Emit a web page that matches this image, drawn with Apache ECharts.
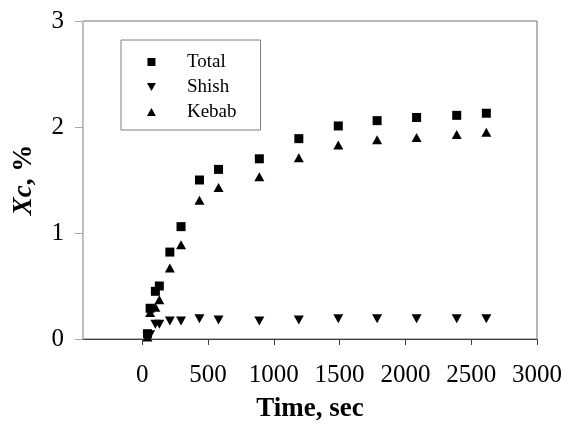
<!DOCTYPE html>
<html>
<head>
<meta charset="utf-8">
<script src="https://cdn.jsdelivr.net/npm/echarts@6/dist/echarts.min.js"></script>
<style>
  html, body { margin: 0; padding: 0; background: #fff; }
  #chart { width: 568px; height: 431px; }
</style>
</head>
<body>
<div id="chart"></div>
<script>
// Sampling times (s) and conversion Xc (%) for each fraction
const timeSec = [40, 60, 100, 130, 210, 295, 435, 580, 890, 1190, 1490, 1785, 2085, 2390, 2615];
const totalXc = [0.05, 0.29, 0.45, 0.50, 0.82, 1.06, 1.50, 1.60, 1.70, 1.89, 2.01, 2.06, 2.09, 2.11, 2.13];
const shishXc = [0.03, 0.04, 0.14, 0.14, 0.17, 0.17, 0.19, 0.18, 0.17, 0.18, 0.19, 0.19, 0.19, 0.19, 0.19];
const kebabXc = [0.02, 0.25, 0.30, 0.37, 0.67, 0.89, 1.31, 1.43, 1.53, 1.71, 1.83, 1.88, 1.90, 1.93, 1.95];

const xTicks = [0, 500, 1000, 1500, 2000, 2500, 3000];
const yTicks = [0, 1, 2, 3];

const FONT = "'Liberation Serif', 'Times New Roman', serif";
// Marker shapes: filled square, downward and upward triangles
const SQUARE = 'path://M0,0L10,0L10,10L0,10Z';
const DOWN_TRIANGLE = 'path://M0,0L10,0L5,9Z';
const UP_TRIANGLE = 'path://M5,0L10,9L0,9Z';

function pairs(xs, ys) {
  return xs.map((x, i) => [x, ys[i]]);
}

const chart = echarts.init(document.getElementById('chart'), null, { renderer: 'canvas' });

chart.setOption({
  animation: false,
  backgroundColor: '#ffffff',
  grid: {
    left: 83, top: 21, right: 31, bottom: 92,
    show: true,
    borderColor: '#707070',
    borderWidth: 1,
    backgroundColor: 'transparent'
  },
  legend: {
    orient: 'vertical',
    left: 121,
    top: 40,
    padding: [12, 24, 8, 26],
    itemWidth: 9,
    itemHeight: 8,
    itemGap: 5,
    symbolKeepAspect: true,
    borderColor: '#808080',
    borderWidth: 1,
    textStyle: { fontFamily: FONT, fontSize: 19, color: '#000', lineHeight: 20, padding: [0, 0, 0, 26] },
    data: [
      { name: 'Total', icon: SQUARE },
      { name: 'Shish', icon: DOWN_TRIANGLE },
      { name: 'Kebab', icon: UP_TRIANGLE }
    ]
  },
  xAxis: {
    type: 'value',
    min: -450,
    max: 3000,
    name: 'Time, sec',
    nameLocation: 'middle',
    nameGap: 57,
    nameTextStyle: { fontFamily: FONT, fontSize: 27, fontWeight: 'bold', color: '#000' },
    axisLine: { show: true, onZero: false, lineStyle: { color: '#404040', width: 1 } },
    axisTick: { show: true, inside: false, length: 6, lineStyle: { color: '#404040' }, customValues: xTicks },
    axisLabel: {
      fontFamily: FONT, fontSize: 25, color: '#000', margin: 24,
      customValues: xTicks,
      formatter: (v) => String(v)
    },
    splitLine: { show: false }
  },
  yAxis: {
    type: 'value',
    min: 0,
    max: 3,
    interval: 1,
    name: '{it|Xc}{rg|, %}',
    nameLocation: 'middle',
    nameGap: 45,
    nameTextStyle: {
      fontFamily: FONT, fontSize: 27, fontWeight: 'bold', color: '#000',
      rich: {
        it: { fontFamily: FONT, fontSize: 27, fontWeight: 'bold', fontStyle: 'italic', color: '#000' },
        rg: { fontFamily: FONT, fontSize: 27, fontWeight: 'bold', color: '#000' }
      }
    },
    axisLine: { show: true, onZero: false, lineStyle: { color: '#c4c4c4', width: 1 } },
    axisTick: { show: true, inside: false, length: 8, lineStyle: { color: '#a8a8a8' }, customValues: yTicks },
    axisLabel: { fontFamily: FONT, fontSize: 25, color: '#000', margin: 19 },
    splitLine: { show: false }
  },
  series: [
    {
      name: 'Total',
      type: 'scatter',
      symbol: SQUARE,
      symbolSize: 9,
      itemStyle: { color: '#000', opacity: 1 },
      data: pairs(timeSec, totalXc),
      z: 3
    },
    {
      name: 'Shish',
      type: 'scatter',
      symbol: DOWN_TRIANGLE,
      symbolSize: [10, 9],
      itemStyle: { color: '#000', opacity: 1 },
      data: pairs(timeSec, shishXc),
      z: 2
    },
    {
      name: 'Kebab',
      type: 'scatter',
      symbol: UP_TRIANGLE,
      symbolSize: [10, 9],
      itemStyle: { color: '#000', opacity: 1 },
      data: pairs(timeSec, kebabXc),
      z: 2
    }
  ]
});
</script>
</body>
</html>
